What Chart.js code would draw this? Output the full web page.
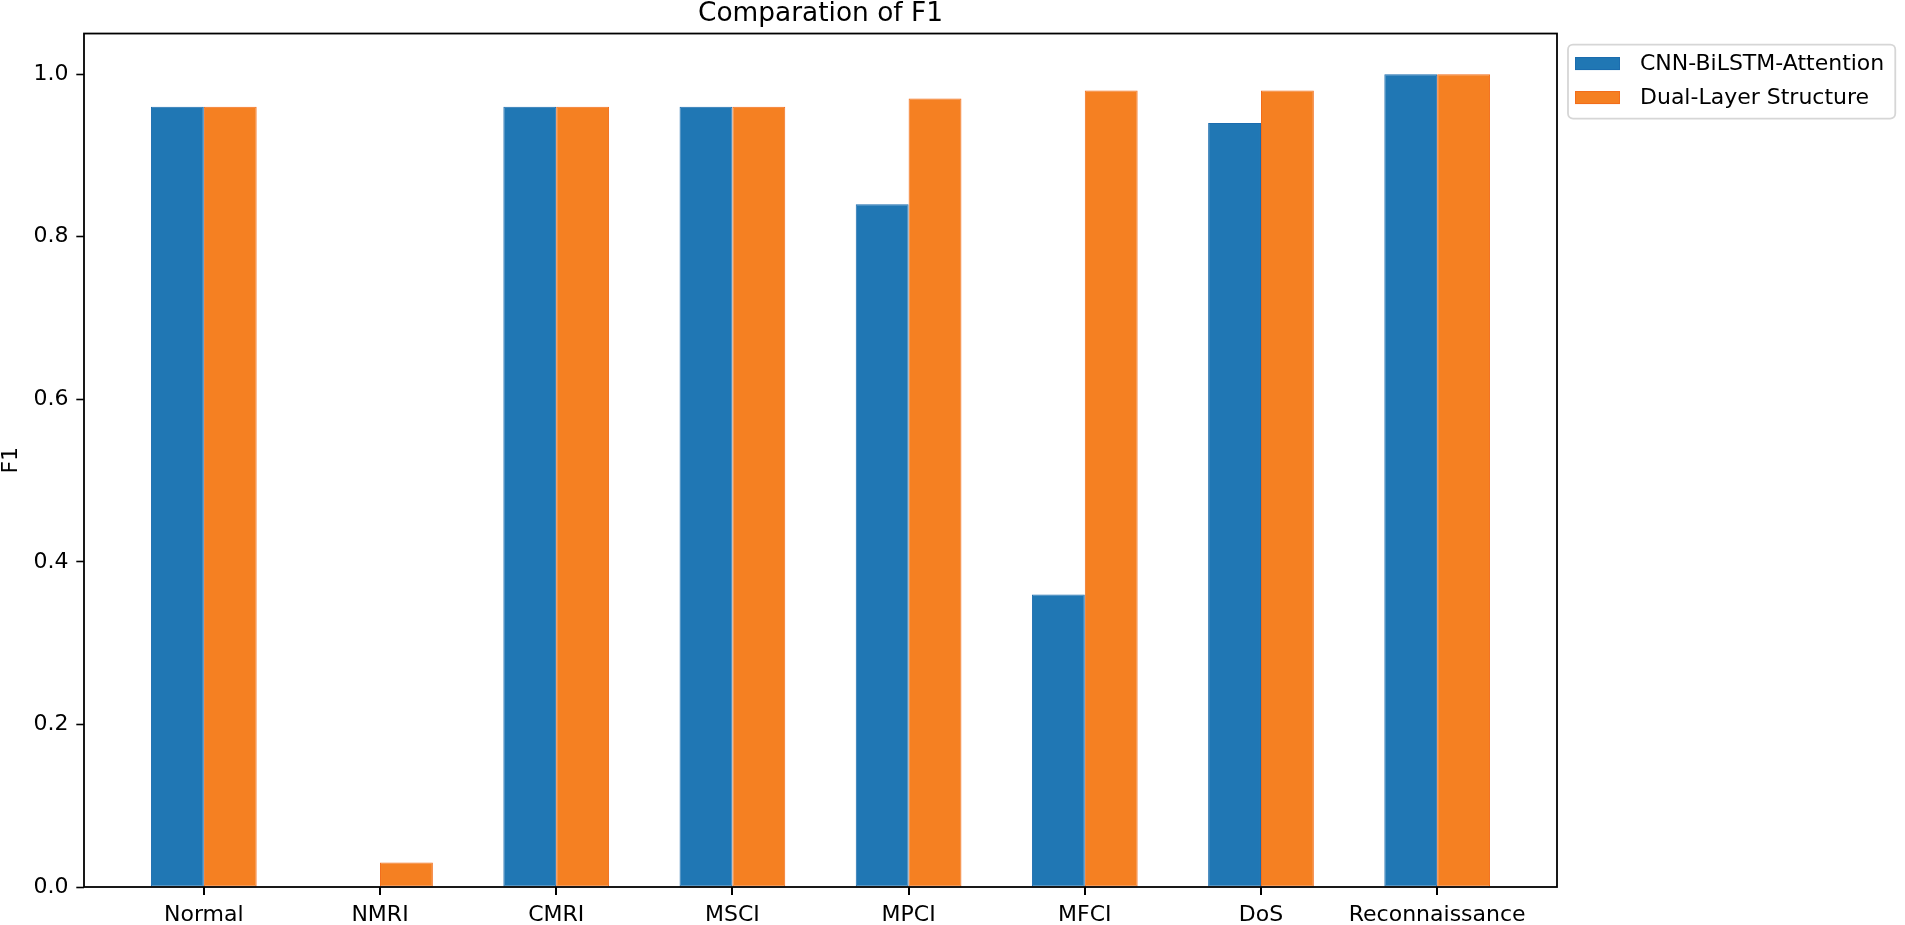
<!DOCTYPE html>
<html>
<head>
<meta charset="utf-8">
<title>Comparation of F1</title>
<script src="https://cdn.jsdelivr.net/npm/chart.js@4.4.1/dist/chart.umd.min.js"></script>
<style>
  html, body { margin: 0; padding: 0; background: #fff; }
  #wrap { position: relative; width: 1905px; height: 925px; }
</style>
</head>
<body>
<div id="wrap"><canvas id="f1Chart"></canvas></div>
<script>
// chart values
const categories = ['Normal', 'NMRI', 'CMRI', 'MSCI', 'MPCI', 'MFCI', 'DoS', 'Reconnaissance'];
const seriesNames = ['CNN-BiLSTM-Attention', 'Dual-Layer Structure'];
const cnnBiLstmAttention = [0.96, 0.00, 0.96, 0.96, 0.84, 0.36, 0.94, 1.00];
const dualLayerStructure = [0.96, 0.03, 0.96, 0.96, 0.97, 0.98, 0.98, 1.00];
const yTicks = [0.0, 0.2, 0.4, 0.6, 0.8, 1.0];

const FONT = "'DejaVu Sans', 'Liberation Sans', sans-serif";
Chart.defaults.font.family = FONT;
Chart.defaults.color = '#000';

// axes frame on all four sides (matplotlib style) + x tick marks
const axesFrame = {
  id: 'axesFrame',
  afterDraw(chart) {
    const { ctx, chartArea: a } = chart;
    const xs = chart.scales.x;
    ctx.save();
    ctx.fillStyle = '#000';
    categories.forEach((c, i) => {
      const px = Math.round(xs.getPixelForValue(i));
      ctx.fillRect(px - 1, a.bottom, 2, 8);
    });
    ctx.strokeStyle = '#000';
    ctx.lineWidth = 1.8;
    ctx.strokeRect(a.left, a.top, a.right - a.left, a.bottom - a.top);
    ctx.restore();
  }
};

// boxed legend placed just outside the top-right corner of the axes
const boxLegend = {
  id: 'boxLegend',
  afterDraw(chart) {
    const { ctx, chartArea: a } = chart;
    const x = a.right + 11;
    const y = a.top + 11;
    ctx.save();
    ctx.font = '22px ' + FONT;
    const textW = Math.max(...chart.data.datasets.map(ds => ctx.measureText(ds.label).width));
    const w = 7 + 45 + 20 + textW + 11;
    const h = 74;
    ctx.fillStyle = 'rgba(255,255,255,0.8)';
    ctx.strokeStyle = '#d6d6d6';
    ctx.lineWidth = 1.8;
    ctx.beginPath();
    ctx.roundRect(x, y, w, h, 5);
    ctx.fill();
    ctx.stroke();
    ctx.textBaseline = 'middle';
    chart.data.datasets.forEach((ds, i) => {
      const cy = y + 19 + i * 34;
      ctx.fillStyle = ds.backgroundColor;
      ctx.fillRect(x + 7, cy - 6.5, 45, 13);
      ctx.strokeStyle = ds.borderColor;
      ctx.lineWidth = 1;
      ctx.strokeRect(x + 7.5, cy - 6, 44, 12);
      ctx.fillStyle = '#000';
      ctx.fillText(ds.label, x + 72, cy + 1);
    });
    ctx.restore();
  }
};

const ctx = document.getElementById('f1Chart').getContext('2d');
new Chart(ctx, {
  type: 'bar',
  data: {
    datasets: [
      {
        label: seriesNames[0],
        data: categories.map((c, i) => ({ x: i, y: cnnBiLstmAttention[i] })),
        backgroundColor: '#2077b4',
        borderColor: '#1b6cae'
      },
      {
        label: seriesNames[1],
        data: categories.map((c, i) => ({ x: i, y: dualLayerStructure[i] })),
        backgroundColor: '#f58022',
        borderColor: '#f26d1b'
      }
    ]
  },
  options: {
    responsive: true,
    maintainAspectRatio: false,
    animation: false,
    categoryPercentage: 0.6,
    barPercentage: 1.0,
    borderWidth: 1,
    borderSkipped: false,
    layout: {
      padding: { top: 0, right: 348, bottom: 0, left: 0 }
    },
    plugins: {
      legend: { display: false },
      tooltip: { enabled: false },
      title: {
        display: true,
        text: 'Comparation of F1',
        fullSize: false,
        font: { size: 26.4, weight: 'normal', lineHeight: 1.1 },
        padding: { top: 0, bottom: 4.5 }
      }
    },
    scales: {
      x: {
        type: 'linear',
        min: -0.68,
        max: 7.68,
        offset: false,
        afterBuildTicks: axis => {
          axis.ticks = categories.map((c, i) => ({ value: i }));
        },
        afterFit: axis => { axis.height = 38; },
        ticks: {
          autoSkip: false,
          maxRotation: 0,
          padding: 7,
          font: { size: 22 },
          callback: v => categories[v]
        },
        grid: { display: false, tickLength: 7.7 },
        border: { display: false }
      },
      y: {
        min: 0,
        max: 1.05,
        afterBuildTicks: axis => {
          axis.ticks = yTicks.map(v => ({ value: v }));
        },
        afterFit: axis => { axis.width = 84; },
        ticks: {
          padding: 7.7,
          font: { size: 22 },
          callback: v => v.toFixed(1)
        },
        grid: {
          drawOnChartArea: false,
          tickLength: 7.7,
          tickColor: '#000',
          tickWidth: 1.6
        },
        border: { display: false },
        title: {
          display: true,
          text: 'F1',
          font: { size: 22, lineHeight: 1.0 },
          padding: 0
        }
      }
    }
  },
  plugins: [axesFrame, boxLegend]
});
</script>
</body>
</html>
